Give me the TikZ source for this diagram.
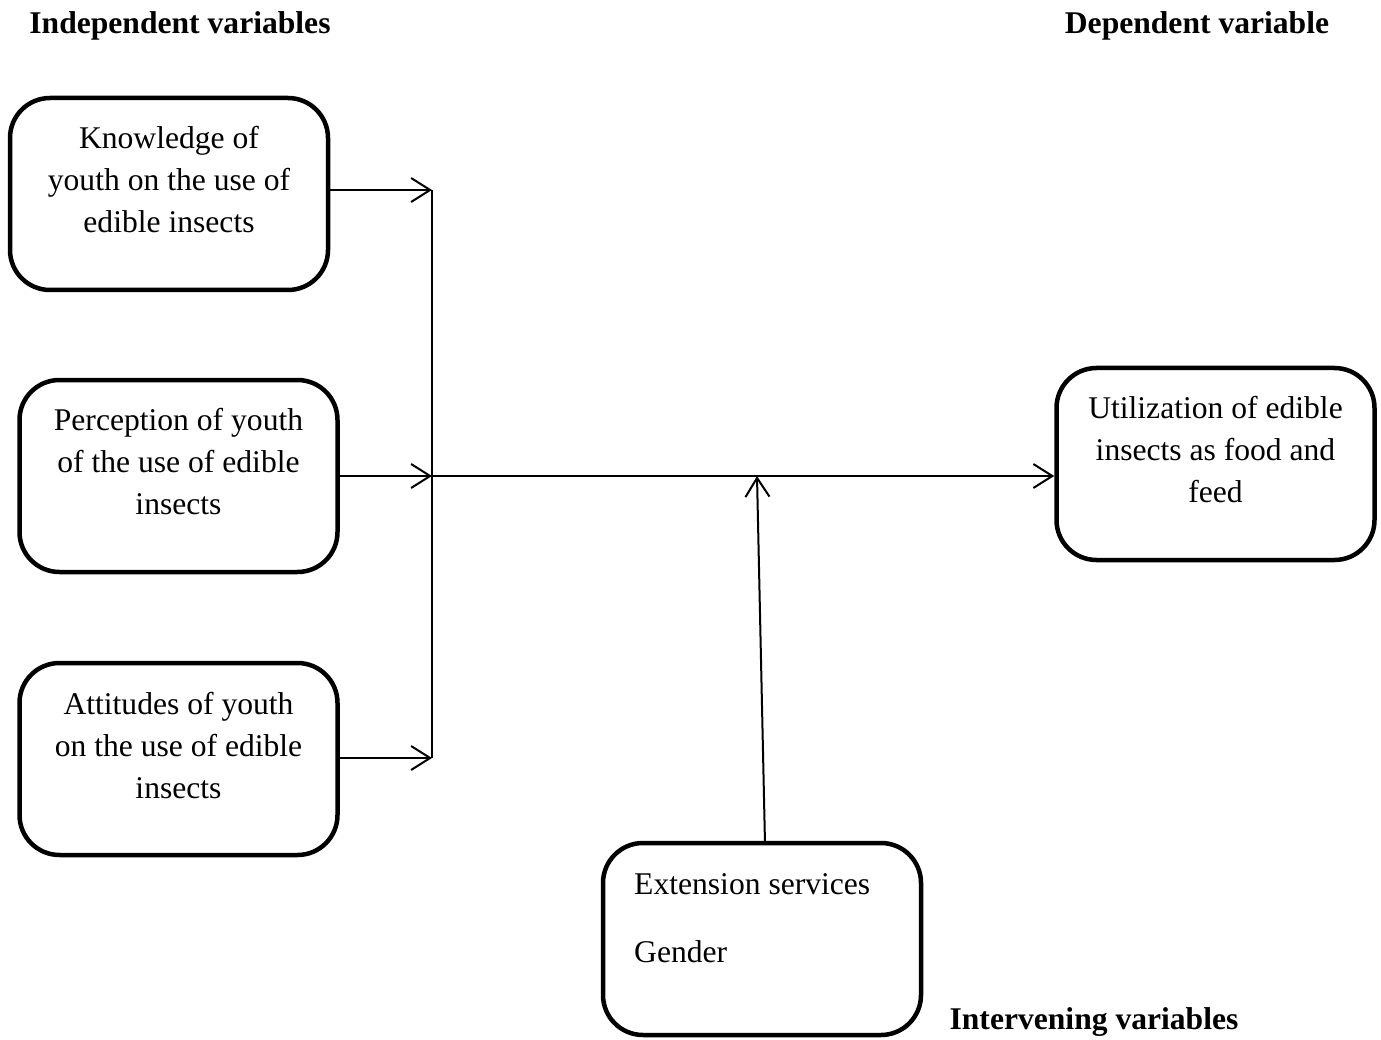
\documentclass[tikz,border=0pt]{standalone}
\usepackage{fontspec}
\setmainfont{Liberation Serif}
\usetikzlibrary{arrows.meta}
\begin{document}
\begin{tikzpicture}[x=1pt,y=-1pt,
  box/.style={draw,line width=4.5pt,rounded corners=40pt,minimum width=318pt,minimum height=192pt,inner sep=0pt},
  txt/.style={align=center,inner sep=0pt,font=\fontsize{31.6}{42}\selectfont},
  ltxt/.style={anchor=west,inner sep=0pt,font=\fontsize{31.6}{42}\selectfont},
  head/.style={inner sep=0pt,font=\fontsize{31.6}{42}\selectfont\bfseries},
  arr/.style={line width=2pt,-{Straight Barb[length=19pt,width=24pt,line width=2pt]}},
  conn/.style={line width=2pt}]
\useasboundingbox (0,0) rectangle (1381,1040);
% headers
\node[head] (hi) at (180,26) {Independent variables};
\node[head] (hd) at (1197,26) {Dependent variable};
\node[head] (hv) at (1094,1022) {Intervening variables};
% boxes
\node[box] (k) at (169,194) {};
\node[txt] (kt) at (169,180) {Knowledge of\\youth on the use of\\edible insects};
\node[box] (p) at (178.5,476) {};
\node[txt] (pt) at (178.5,462) {Perception of youth\\of the use of edible\\insects};
\node[box] (a) at (178.5,759) {};
\node[txt] (at) at (178.5,746) {Attitudes of youth\\on the use of edible\\insects};
\node[box] (u) at (1215.5,464) {};
\node[txt] (ut) at (1215.5,450) {Utilization of edible\\insects as food and\\feed};
\node[box] (e) at (762,939) {};
\node[ltxt] (e1) at (634,884) {Extension services};
\node[ltxt] (e2) at (634,952) {Gender};
% connectors
\coordinate (b1) at (432,190);
\coordinate (b2) at (432,476);
\coordinate (b3) at (432,758);
\coordinate (m) at (757,476);
\draw[conn] (b1) -- (b3);
\draw[arr] (k.east |- b1) -- (b1);
\draw[arr] (p.east |- b2) -- (b2);
\draw[arr] (a.east |- b3) -- (b3);
\draw[arr] (b2) -- (u.west |- b2);
\draw[arr] ([xshift=3pt,yshift=-3pt]e.north) -- (m);
\end{tikzpicture}
\end{document}
